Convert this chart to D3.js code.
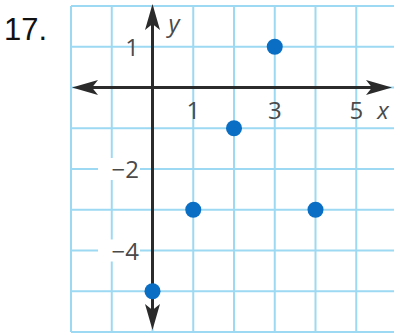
<!DOCTYPE html>
<html>
<head>
<meta charset="utf-8">
<script src="https://cdn.jsdelivr.net/npm/d3@7"></script>
<style>
  body { margin: 0; background: #fff; }
  svg { display: block; }
</style>
</head>
<body>
<div id="chart"></div>
<script>
// points
var pointX = [0, 1, 2, 3, 4];
var pointY = [-5, -3, -1, 1, -3];
var xTickLabels = [1, 3, 5];
var yTickLabels = [1, -2, -4];
var problemLabel = "17.";

var W = 394, H = 335;

var svg = d3.select("#chart")
  .append("svg")
  .attr("width", W)
  .attr("height", H);

var x = d3.scaleLinear().domain([-2, 6]).range([71, 397]);
var y = d3.scaleLinear().domain([2, -6]).range([6, 332]);

// grid
var grid = svg.append("g").attr("stroke", "#9dd9f2").attr("stroke-width", 2);
grid.selectAll(".gx")
  .data(d3.range(-2, 7))
  .enter().append("line")
  .attr("x1", function(d) { return x(d); })
  .attr("x2", function(d) { return x(d); })
  .attr("y1", y(2)).attr("y2", y(-6));
grid.selectAll(".gy")
  .data(d3.range(-6, 3))
  .enter().append("line")
  .attr("y1", function(d) { return y(d); })
  .attr("y2", function(d) { return y(d); })
  .attr("x1", x(-2)).attr("x2", x(6));

// problem number
svg.append("text")
  .attr("x", 4).attr("y", 40)
  .attr("font-family", "Liberation Sans, Arial, sans-serif")
  .attr("font-size", 31)
  .attr("fill", "#111")
  .text(problemLabel);

// axes
var axisColor = "#2b2b2b";
var ax = svg.append("g");
ax.append("line")
  .attr("x1", x(-2) + 20).attr("x2", 372)
  .attr("y1", y(0)).attr("y2", y(0))
  .attr("stroke", axisColor).attr("stroke-width", 3);
ax.append("line")
  .attr("x1", x(0)).attr("x2", x(0))
  .attr("y1", 20).attr("y2", 312)
  .attr("stroke", axisColor).attr("stroke-width", 3);

function arrow(tipX, tipY, dx, dy) {
  // dx,dy unit direction of the arrow
  var len = 26, half = 7.5, notch = 6;
  var bx = tipX - dx * len, by = tipY - dy * len;
  var nx = -dy, ny = dx;
  var mx = tipX - dx * (len - notch), my = tipY - dy * (len - notch);
  return "M" + tipX + "," + tipY +
    "L" + (bx + nx * half) + "," + (by + ny * half) +
    "L" + mx + "," + my +
    "L" + (bx - nx * half) + "," + (by - ny * half) + "Z";
}
ax.selectAll(".arrow")
  .data([[72, y(0), -1, 0], [392, y(0), 1, 0], [x(0), 4, 0, -1], [x(0), 330, 0, 1]])
  .enter().append("path")
  .attr("d", function(d) { return arrow(d[0], d[1], d[2], d[3]); })
  .attr("fill", axisColor);

// tick labels
var labelFont = "Open Sans, Liberation Sans, sans-serif";
var xl = svg.append("g");
xl.selectAll("text")
  .data(xTickLabels)
  .enter().append("text")
  .attr("x", function(d) { return x(d); })
  .attr("y", 119)
  .attr("text-anchor", "middle")
  .attr("font-family", labelFont)
  .attr("font-size", 24)
  .attr("fill", "#4a4a4a")
  .text(function(d) { return d; });
svg.append("text")
  .attr("x", 383).attr("y", 119)
  .attr("text-anchor", "middle")
  .attr("font-family", labelFont)
  .attr("font-style", "italic")
  .attr("font-size", 24)
  .attr("fill", "#4a4a4a")
  .text("x");

var yl = svg.append("g");
var yLab = yl.selectAll("g")
  .data(yTickLabels)
  .enter().append("g");
yLab.filter(function(d) { return d < 0; })
  .append("rect")
  .attr("x", 98)
  .attr("y", function(d) { return y(d) - 11; })
  .attr("width", 42).attr("height", 22)
  .attr("fill", "#fff");
yLab.append("text")
  .attr("x", 139)
  .attr("y", function(d) { return y(d) + 9; })
  .attr("text-anchor", "end")
  .attr("font-family", labelFont)
  .attr("font-size", 24)
  .attr("fill", "#4a4a4a")
  .text(function(d) { return d < 0 ? "\u2212" + Math.abs(d) : d; });
svg.append("text")
  .attr("x", 174).attr("y", 32)
  .attr("text-anchor", "middle")
  .attr("font-family", labelFont)
  .attr("font-style", "italic")
  .attr("font-size", 24)
  .attr("fill", "#4a4a4a")
  .text("y");

// points
svg.selectAll(".pt")
  .data(pointX)
  .enter().append("circle")
  .attr("class", "pt")
  .attr("cx", function(d) { return x(d); })
  .attr("cy", function(d, i) { return y(pointY[i]); })
  .attr("r", 8)
  .attr("fill", "#0a6fc4");
</script>
</body>
</html>
